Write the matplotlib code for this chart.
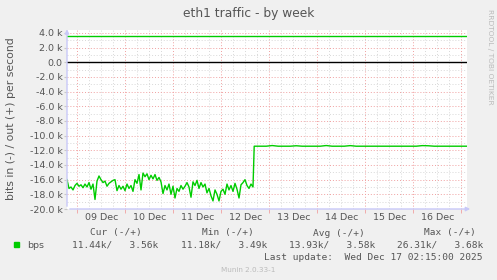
import numpy as np
import matplotlib
matplotlib.use("Agg")
import matplotlib.pyplot as plt
from matplotlib.ticker import MultipleLocator, FuncFormatter

# hours since Dec 08 18:15 (left edge of graph), 1 h samples
in_noisy = [-16.0, -17.2, -17.0, -17.4, -16.8, -16.5, -16.9, -16.7, -17.1, -16.6,
            -17.0, -16.4, -17.3, -16.6, -18.7, -16.2, -15.5, -16.0, -16.4, -16.2,
            -16.9, -16.5, -16.3, -16.1, -16.0, -17.5, -16.8, -17.3, -16.9, -17.5,
            -16.6, -17.2, -16.8, -17.6, -16.0, -16.5, -15.3, -17.4, -15.1, -15.6,
            -15.2, -16.0, -15.4, -15.9, -15.3, -16.1, -15.7, -16.3, -17.9, -16.8,
            -17.4, -16.6, -18.0, -16.9, -18.5, -17.2, -17.6, -16.8, -17.3, -16.9,
            -16.4, -17.0, -18.4, -16.3, -16.8, -16.1, -17.2, -16.4, -17.0, -16.6,
            -17.8, -17.2, -18.2, -18.9, -17.4, -18.0, -18.9, -17.6, -17.3, -18.0,
            -16.6, -17.4, -16.8, -17.6, -16.5, -17.3, -18.5, -16.7, -16.4, -16.0,
            -16.8, -17.2, -16.6, -17.0]
# after the jump, 3 h samples
in_flat = [-11.44, -11.44, -11.44, -11.35, -11.44, -11.44, -11.44, -11.38, -11.44,
           -11.44, -11.44, -11.44, -11.35, -11.44, -11.44, -11.44, -11.36, -11.44,
           -11.44, -11.44, -11.44, -11.44, -11.44, -11.44, -11.44, -11.44, -11.44,
           -11.44, -11.36, -11.38, -11.44, -11.44, -11.44, -11.44, -11.44, -11.44]
# out, 6 h samples
out_vals = [3.56, 3.56, 3.56, 3.56, 3.56, 3.56, 3.56, 3.56, 3.56, 3.56, 3.56, 3.56,
            3.56, 3.56, 3.56, 3.56, 3.56, 3.56, 3.56, 3.56, 3.56, 3.56, 3.56, 3.56,
            3.56, 3.56, 3.56, 3.56, 3.56, 3.56, 3.56, 3.56, 3.56, 3.56]

day_labels = ["09 Dec", "10 Dec", "11 Dec", "12 Dec", "13 Dec", "14 Dec", "15 Dec", "16 Dec"]
legend_cols = ["Cur (-/+)", "Min (-/+)", "Avg (-/+)", "Max (-/+)"]
legend_vals = ["11.44k/   3.56k", "11.18k/   3.49k", "13.93k/   3.58k", "26.31k/   3.68k"]

GREEN = "#00CC00"
SPAN = 200.0  # hours shown
OFFSET = 5.2  # hours from left edge to Dec 09 00:00

t_noisy = np.arange(len(in_noisy)) * 1.0
t_flat = t_noisy[-1] + 0.6 + np.arange(len(in_flat)) * 3.0
t_flat[-1] = SPAN
t_in = np.concatenate([t_noisy, t_flat])
v_in = np.concatenate([in_noisy, in_flat])
t_out = np.linspace(0, SPAN, len(out_vals))

fig = plt.figure(figsize=(4.97, 2.80), dpi=100)
fig.patch.set_facecolor("#F0F0F0")
ax = fig.add_axes([67 / 497, 1 - 209 / 280, 400 / 497, 179 / 280])
ax.set_facecolor("white")
ax.set_xlim(0, SPAN)
ax.set_ylim(-20, 4.4)

for s in ax.spines.values():
    s.set_visible(False)

# grid
for h in np.arange(OFFSET - 24, SPAN, 6):
    if h <= 0:
        continue
    major = abs(((h - OFFSET) / 24) - round((h - OFFSET) / 24)) < 1e-6
    ax.axvline(h, color="#F0A0A0" if major else "#D8D8D8", lw=0.7,
               ls=(0, (1, 2)), zorder=1)
for v in np.arange(-19, 5, 1):
    if v == 0:
        continue
    major = v % 2 == 0
    ax.axhline(v, color="#F0A0A0" if major else "#D8D8D8", lw=0.7,
               ls=(0, (1, 2)), zorder=1)
ax.axhline(0, color="black", lw=1.0, zorder=2)

ax.plot(t_in, v_in, color=GREEN, lw=1.0, zorder=3)
ax.plot(t_out, out_vals, color=GREEN, lw=1.0, zorder=3)

# axes with arrows
ax.annotate("", xy=(1.015, 0), xytext=(0, 0), xycoords="axes fraction",
            arrowprops=dict(arrowstyle="-|>", color="#C8C8F8", lw=1.0,
                            mutation_scale=6), annotation_clip=False)
ax.annotate("", xy=(0, 1.02), xytext=(0, 0), xycoords="axes fraction",
            arrowprops=dict(arrowstyle="-|>", color="#C8C8F8", lw=1.0,
                            mutation_scale=6), annotation_clip=False)

ax.yaxis.set_major_locator(MultipleLocator(2))
ax.yaxis.set_major_formatter(FuncFormatter(
    lambda v, p: "0.0" if abs(v) < 1e-9 else "%.1f k" % v))
ax.tick_params(axis="y", length=2, color="#C8C8C8", labelsize=6.8,
               labelcolor="#555555", pad=1)
ax.set_xticks([OFFSET + 12 + 24 * i for i in range(len(day_labels))])
ax.set_xticklabels(day_labels)
ax.set_xticks([OFFSET + 24 * i for i in range(9)], minor=True)
ax.tick_params(axis="x", which="major", length=0, labelsize=6.8,
               labelcolor="#555555", pad=3)
ax.tick_params(axis="x", which="minor", length=3, color="#F0A0A0")

fig.text(11 / 497, 1 - 119 / 280, "bits in (-) / out (+) per second",
         rotation=90, ha="center", va="center", fontsize=7.8, color="#555555")

fig.text(249 / 497, 1 - 14 / 280, "eth1 traffic - by week", ha="center",
         va="center", fontsize=8.8, color="#555555")
fig.text(490 / 497, 1 - 57 / 280, "RRDTOOL / TOBI OETIKER", rotation=-90,
         ha="center", va="center", fontsize=5.4, color="#BBBBBB")

mono = "DejaVu Sans Mono"
fig.patches.append(plt.Rectangle((14 / 497, 1 - 247 / 280), 5 / 497, 5 / 280,
                                 transform=fig.transFigure, color=GREEN))
fig.text(27 / 497, 1 - 245 / 280, "bps", fontsize=6.8, family="DejaVu Sans",
         color="#555555", va="center")
col_x = [116, 228, 339, 450]
val_x = [115, 224, 332, 440]
for cx, lab in zip(col_x, legend_cols):
    fig.text(cx / 497, 1 - 233 / 280, lab, fontsize=6.8, family=mono,
             color="#555555", ha="center", va="center")
for vx, lab in zip(val_x, legend_vals):
    fig.text(vx / 497, 1 - 245 / 280, lab, fontsize=6.8, family=mono,
             color="#555555", ha="center", va="center")
fig.text(483 / 497, 1 - 257 / 280, "Last update:  Wed Dec 17 02:15:00 2025",
         fontsize=6.8, family=mono, color="#555555", ha="right", va="center")
fig.text(248 / 497, 1 - 270 / 280, "Munin 2.0.33-1", fontsize=5.2,
         color="#BBBBBB", ha="center", va="center")

fig.savefig("out.png", dpi=100, facecolor=fig.get_facecolor())
